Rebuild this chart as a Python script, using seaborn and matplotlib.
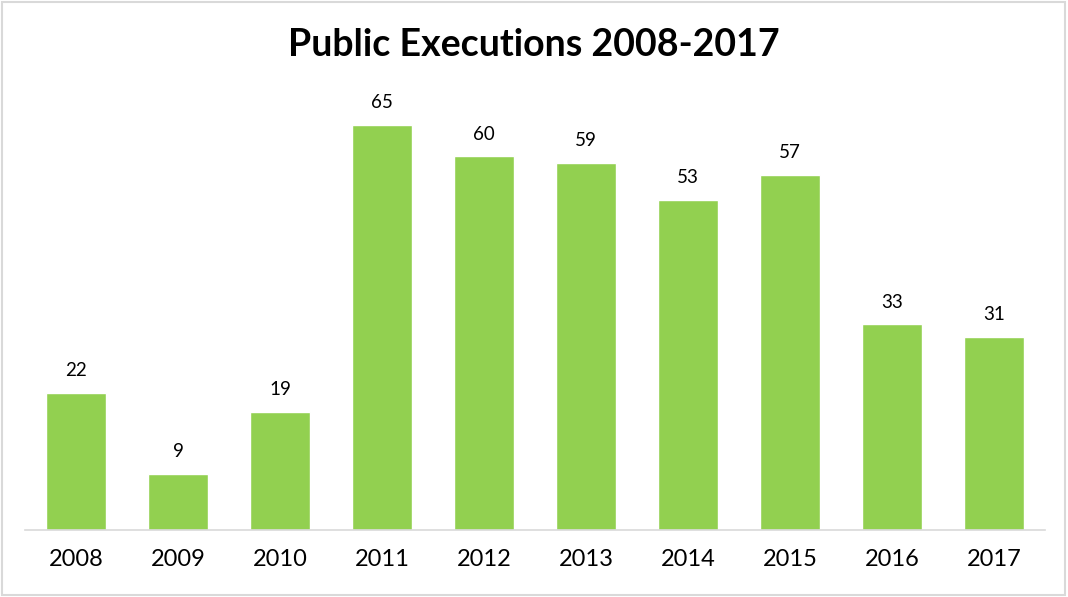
import matplotlib
matplotlib.use("Agg")
import matplotlib.pyplot as plt
import seaborn as sns
import pandas as pd
from matplotlib.patches import Rectangle

years = ["2008", "2009", "2010", "2011", "2012", "2013", "2014", "2015", "2016", "2017"]
executions = [22, 9, 19, 65, 60, 59, 53, 57, 33, 31]

df = pd.DataFrame({"Year": years, "Executions": executions})

sns.set_theme(style="white")
plt.rcParams["font.family"] = ["Lato", "DejaVu Sans"]

fig = plt.figure(figsize=(10.68, 5.97), dpi=100)
ax = fig.add_axes([25 / 1068, 67 / 597, 1020 / 1068, 436 / 597])

sns.barplot(data=df, x="Year", y="Executions", color="#92D050", width=0.59,
            saturation=1, ax=ax)

# value labels above bars
for i, v in enumerate(executions):
    ax.text(i, v + 2.2, str(v), ha="center", va="bottom", fontsize=13.5, color="#000000")

ax.set_ylim(0, 70)
ax.set_xlim(-0.5, len(years) - 0.5)
ax.set_xlabel("")
ax.set_ylabel("")
ax.set_yticks([])
for s in ["top", "right", "left"]:
    ax.spines[s].set_visible(False)
ax.spines["bottom"].set_color("#d9d9d9")
ax.spines["bottom"].set_linewidth(1.2)
ax.tick_params(axis="x", length=0, labelsize=17, pad=14, colors="#000000")

fig.text(0.5, 1 - 45 / 597, "Public Executions 2008-2017", ha="center", va="center",
         fontsize=27, fontweight="bold", color="#000000")

fig.patches.append(Rectangle((0.002, 0.003), 0.995, 0.994, transform=fig.transFigure,
                             fill=False, edgecolor="#d9d9d9", linewidth=1.5))

fig.savefig("out.png", dpi=100)
